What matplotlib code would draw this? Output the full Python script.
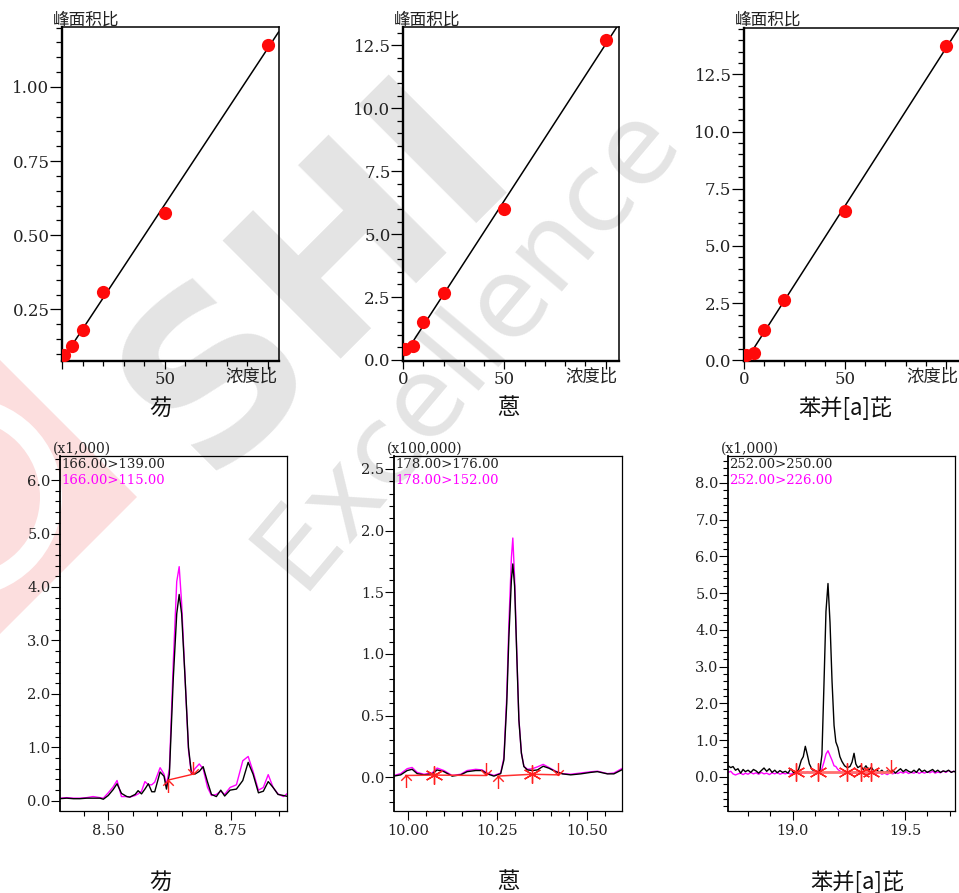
import numpy as np
import matplotlib
matplotlib.use("Agg")
import matplotlib.pyplot as plt
from matplotlib.path import Path
from matplotlib.patches import Polygon, Wedge
from matplotlib.transforms import IdentityTransform
from matplotlib.ticker import MultipleLocator, FixedLocator, FixedFormatter, FormatStrFormatter

# ---------------- data ----------------
conc = [1, 5, 10, 20, 50, 100]
fl_ratio = [0.095, 0.126, 0.179, 0.310, 0.575, 1.141]
an_ratio = [0.42, 0.56, 1.51, 2.67, 5.98, 12.70]
bap_ratio = [0.22, 0.32, 1.34, 2.62, 6.53, 13.76]
names = ["芴", "蒽", "苯并[a]芘"]

fl_t = [8.401, 8.415, 8.429, 8.442, 8.456, 8.469, 8.483, 8.490, 8.500, 8.510,
        8.518, 8.527, 8.538, 8.544, 8.555, 8.561, 8.568, 8.575, 8.582, 8.589,
        8.595, 8.606, 8.614, 8.619, 8.625, 8.633, 8.640, 8.645, 8.650, 8.657,
        8.664, 8.670, 8.677, 8.686, 8.694, 8.703, 8.711, 8.721, 8.730, 8.738,
        8.749, 8.762, 8.775, 8.786, 8.796, 8.807, 8.817, 8.827, 8.837, 8.847,
        8.858, 8.868]
fl_139 = [0.04, 0.05, 0.04, 0.04, 0.05, 0.05, 0.05, 0.03, 0.10, 0.21,
          0.32, 0.14, 0.08, 0.07, 0.12, 0.19, 0.13, 0.22, 0.32, 0.17,
          0.17, 0.54, 0.46, 0.22, 0.50, 2.30, 3.50, 3.86, 3.50, 2.30,
          1.00, 0.52, 0.50, 0.55, 0.64, 0.35, 0.12, 0.08, 0.20, 0.09,
          0.20, 0.22, 0.38, 0.72, 0.50, 0.15, 0.18, 0.36, 0.25, 0.12,
          0.10, 0.08]
fl_115 = [0.05, 0.06, 0.05, 0.05, 0.06, 0.08, 0.06, 0.05, 0.15, 0.26,
          0.38, 0.08, 0.08, 0.07, 0.10, 0.13, 0.18, 0.36, 0.30, 0.30,
          0.35, 0.62, 0.50, 0.30, 0.60, 2.60, 4.10, 4.38, 3.70, 2.30,
          0.95, 0.50, 0.60, 0.69, 0.60, 0.25, 0.10, 0.12, 0.18, 0.12,
          0.25, 0.30, 0.75, 0.83, 0.55, 0.20, 0.25, 0.49, 0.25, 0.13,
          0.08, 0.15]

an_t = [9.960, 9.979, 9.997, 10.011, 10.025, 10.044, 10.067, 10.081, 10.100, 10.123,
        10.147, 10.165, 10.189, 10.207, 10.221, 10.240, 10.259, 10.268, 10.276, 10.282,
        10.289, 10.293, 10.298, 10.304, 10.310, 10.317, 10.324, 10.334, 10.348, 10.362,
        10.378, 10.394, 10.413, 10.432, 10.455, 10.483, 10.511, 10.530, 10.558, 10.576,
        10.598]
an_176 = [0.010, 0.020, 0.055, 0.065, 0.030, 0.020, 0.028, 0.060, 0.046, 0.010,
          0.020, 0.046, 0.055, 0.055, 0.028, 0.010, 0.030, 0.140, 0.600, 1.140,
          1.600, 1.730, 1.550, 1.000, 0.465, 0.195, 0.087, 0.060, 0.055, 0.060,
          0.090, 0.074, 0.046, 0.028, 0.020, 0.028, 0.040, 0.046, 0.028, 0.028,
          0.060]
an_152 = [0.015, 0.030, 0.070, 0.080, 0.040, 0.025, 0.035, 0.075, 0.055, 0.015,
          0.025, 0.055, 0.065, 0.060, 0.035, 0.015, 0.035, 0.160, 0.660, 1.250,
          1.780, 1.940, 1.620, 1.020, 0.470, 0.200, 0.090, 0.065, 0.070, 0.085,
          0.105, 0.080, 0.050, 0.030, 0.025, 0.035, 0.045, 0.050, 0.030, 0.035,
          0.070]

bap_t = [18.712, 18.724, 18.734, 18.745, 18.756, 18.768, 18.779, 18.789, 18.801, 18.813,
         18.825, 18.837, 18.848, 18.860, 18.872, 18.884, 18.896, 18.908, 18.920, 18.931,
         18.943, 18.955, 18.967, 18.979, 18.991, 19.003, 19.015, 19.026, 19.038, 19.047,
         19.056, 19.065, 19.074, 19.086, 19.098, 19.109, 19.121, 19.130, 19.139, 19.148,
         19.157, 19.166, 19.175, 19.184, 19.192, 19.201, 19.210, 19.219, 19.231, 19.243,
         19.255, 19.264, 19.273, 19.281, 19.290, 19.302, 19.314, 19.326, 19.338, 19.350,
         19.362, 19.373, 19.385, 19.397, 19.409, 19.421, 19.433, 19.445, 19.457, 19.468,
         19.480, 19.492, 19.504, 19.516, 19.528, 19.540, 19.551, 19.563, 19.575, 19.587,
         19.599, 19.611, 19.623, 19.634, 19.646, 19.658, 19.670, 19.682, 19.694, 19.706,
         19.717, 19.729]
bap_250 = [0.30, 0.25, 0.28, 0.18, 0.22, 0.10, 0.20, 0.14, 0.18, 0.12,
           0.20, 0.16, 0.10, 0.17, 0.24, 0.15, 0.22, 0.12, 0.18, 0.11,
           0.17, 0.12, 0.15, 0.10, 0.22, 0.12, 0.12, 0.20, 0.45, 0.55,
           0.83, 0.60, 0.35, 0.20, 0.15, 0.12, 0.18, 0.60, 2.50, 4.50,
           5.26, 4.20, 2.60, 1.40, 0.95, 0.80, 0.55, 0.42, 0.30, 0.25,
           0.28, 0.40, 0.64, 0.35, 0.25, 0.30, 0.20, 0.30, 0.18, 0.26,
           0.15, 0.20, 0.12, 0.18, 0.10, 0.16, 0.12, 0.18, 0.10, 0.16,
           0.22, 0.14, 0.20, 0.15, 0.12, 0.18, 0.12, 0.22, 0.14, 0.18,
           0.12, 0.16, 0.20, 0.13, 0.18, 0.12, 0.16, 0.14, 0.18, 0.12,
           0.15, 0.12]
bap_226 = [0.12, 0.15, 0.08, 0.05, 0.08, 0.10, 0.06, 0.10, 0.07, 0.12,
           0.08, 0.11, 0.07, 0.12, 0.08, 0.10, 0.06, 0.11, 0.08, 0.12,
           0.07, 0.10, 0.08, 0.11, 0.07, 0.10, 0.08, 0.12, 0.09, 0.13,
           0.10, 0.14, 0.11, 0.13, 0.11, 0.15, 0.14, 0.22, 0.40, 0.62,
           0.71, 0.58, 0.45, 0.30, 0.28, 0.20, 0.16, 0.12, 0.14, 0.10,
           0.13, 0.09, 0.12, 0.10, 0.14, 0.09, 0.12, 0.08, 0.11, 0.09,
           0.13, 0.08, 0.12, 0.07, 0.10, 0.06, 0.11, 0.08, 0.12, 0.09,
           0.13, 0.10, 0.14, 0.09, 0.12, 0.10, 0.14, 0.09, 0.13, 0.10,
           0.14, 0.11, 0.15, 0.10, 0.13, 0.11, 0.16, 0.12, 0.17, 0.13,
           0.15, 0.14]

# integration baselines: (start time, start level, end time, end level)
fl_base = [(8.623, 0.39, 8.674, 0.50)]
an_base = [(9.993, 0.015, 10.072, 0.018), (10.072, 0.018, 10.217, 0.015),
           (10.251, 0.010, 10.348, 0.025), (10.348, 0.025, 10.420, 0.020)]
bap_base = [(19.016, 0.137, 19.439, 0.137)]
fl_marks = [(8.623, 0.39, "up"), (8.674, 0.50, "down")]
an_marks = [(9.993, 0.015, "up"), (10.072, 0.018, "star"), (10.217, 0.015, "down"),
            (10.251, 0.010, "up"), (10.348, 0.025, "star"), (10.420, 0.020, "down")]
bap_marks = [(19.016, 0.137, "star"), (19.112, 0.137, "star"), (19.243, 0.137, "star"),
             (19.302, 0.137, "star"), (19.350, 0.137, "star"), (19.439, 0.137, "down")]

# ---------------- figure ----------------
W, H = 959, 893
plt.rcParams["font.family"] = ["DejaVu Serif", "Noto Sans CJK SC"]
CJK = ["Noto Sans CJK SC", "DejaVu Sans"]
fig = plt.figure(figsize=(W / 100, H / 100), dpi=100)
fig.patch.set_facecolor("white")


def fxy(px, py):
    return px / W, 1 - py / H


def add_ax(x0, x1, y0, y1):
    ax = fig.add_axes([x0 / W, 1 - y1 / H, (x1 - x0) / W, (y1 - y0) / H])
    ax.set_facecolor("none")
    return ax


# ---- background watermark (logo + text) ----
ident = IdentityTransform()
pink = "#fcdede"
diamond = Polygon([(137, H - 497), (-3, H - 357), (-143, H - 497), (-3, H - 637)],
                  closed=True, transform=ident, facecolor=pink, edgecolor="none",
                  zorder=-8)
fig.patches.append(diamond)
ring = Wedge((-38, H - 497), 100, 0, 360, width=22, transform=ident,
             facecolor="white", edgecolor="none", zorder=-7)
fig.patches.append(ring)

wm = "#e4e4e4"
fig.text(*fxy(205, 478), "SHI", rotation=45, rotation_mode="anchor",
         ha="left", va="baseline", fontsize=165, fontweight="bold",
         color=wm, family=["DejaVu Sans"], zorder=-5)
fig.text(*fxy(300, 592), "Excellence", rotation=50, rotation_mode="anchor",
         ha="left", va="baseline", fontsize=80, color=wm,
         family=["DejaVu Sans"], zorder=-5)

TXT = "#222222"

# ---------- calibration curves ----------
top = [
    dict(box=(62, 278.5, 27, 361), y=fl_ratio, xlim=(0, 105.2), ylim=(0.076, 1.202),
         ymaj=0.25, ymin=0.05, yfmt="%.2f", xlab=["", "50", ""], name_x=160, cr=277),
    dict(box=(403, 619, 27, 361), y=an_ratio, xlim=(0, 106.6), ylim=(-0.04, 13.23),
         ymaj=2.5, ymin=0.5, yfmt="%.1f", xlab=["0", "50", ""], name_x=508, cr=617),
    dict(box=(744, 961, 28, 361), y=bap_ratio, xlim=(0, 107.4), ylim=(-0.03, 14.53),
         ymaj=2.5, ymin=0.5, yfmt="%.1f", xlab=["0", "50", ""], name_x=845, cr=958),
]

for i, p in enumerate(top):
    ax = add_ax(*p["box"])
    xs = np.array(conc, dtype=float)
    ys = np.array(p["y"], dtype=float)
    k, b = np.polyfit(xs, ys, 1)
    xl = np.array(p["xlim"])
    ax.plot(xl, k * xl + b, color="black", lw=1.1, zorder=2)
    ax.plot(xs, ys, "o", color="#ff0a0a", ms=9.5, mec="none", zorder=3)
    ax.set_xlim(*p["xlim"])
    ax.set_ylim(*p["ylim"])
    ax.yaxis.set_major_locator(MultipleLocator(p["ymaj"]))
    ax.yaxis.set_minor_locator(MultipleLocator(p["ymin"]))
    ax.yaxis.set_major_formatter(FormatStrFormatter(p["yfmt"]))
    ax.xaxis.set_major_locator(FixedLocator([0, 50, 100]))
    ax.xaxis.set_major_formatter(FixedFormatter(p["xlab"]))
    ax.xaxis.set_minor_locator(MultipleLocator(10))
    ax.tick_params(axis="y", which="major", length=8.5, width=0.9, pad=0.5,
                   labelsize=12, labelcolor=TXT)
    ax.tick_params(axis="y", which="minor", length=4.5, width=0.9)
    ax.tick_params(axis="x", which="major", length=6, width=0.9, pad=1.5,
                   labelsize=12, labelcolor=TXT)
    ax.tick_params(axis="x", which="minor", length=3.5, width=0.9)
    for s in ("left", "bottom"):
        ax.spines[s].set_linewidth(1.7)
    for s in ("top", "right"):
        ax.spines[s].set_linewidth(1.1)
    x0 = p["box"][0]
    fig.text(*fxy(x0 - 9.5, 20.5), "峰面积比", ha="left", va="center",
             fontsize=12, color=TXT, family=CJK)
    fig.text(*fxy(p["cr"], 377), "浓度比", ha="right", va="center",
             fontsize=12.5, color=TXT, family=CJK)
    fig.text(*fxy(p["name_x"], 408), names[i], ha="center", va="center",
             fontsize=16, color="#111111", family=CJK)

# ---------- chromatograms ----------
up_path = Path([(0, 0), (0, -1), (-0.42, -0.42), (0, 0), (0.42, -0.42)],
               [Path.MOVETO, Path.LINETO, Path.MOVETO, Path.LINETO, Path.LINETO])
down_path = Path([(0, 0), (0, 1), (-0.42, 0.42), (0, 0), (0.42, 0.42)],
                 [Path.MOVETO, Path.LINETO, Path.MOVETO, Path.LINETO, Path.LINETO])

bot = [
    dict(box=(60.3, 287.3, 456, 811), t=fl_t, k=fl_139, m=fl_115,
         xlim=(8.402, 8.866), ylim=(-0.19, 6.45), ymaj=1.0, ymin=0.2,
         xmaj=[8.50, 8.75], xmin=0.05, xfmt="%.2f", scale="(x1,000)",
         l1="166.00>139.00", l2="166.00>115.00", base=fl_base, marks=fl_marks,
         bcol="#ff2020", blw=1.0, name_x=160),
    dict(box=(394.3, 621.7, 456, 811), t=an_t, k=an_176, m=an_152,
         xlim=(9.961, 10.598), ylim=(-0.273, 2.605), ymaj=0.5, ymin=0.1,
         xmaj=[10.00, 10.25, 10.50], xmin=0.05, xfmt="%.2f", scale="(x100,000)",
         l1="178.00>176.00", l2="178.00>152.00", base=an_base, marks=an_marks,
         bcol="#ff3030", blw=1.1, name_x=508),
    dict(box=(728.3, 955.3, 456, 811), t=bap_t, k=bap_250, m=bap_226,
         xlim=(18.713, 19.724), ylim=(-0.93, 8.73), ymaj=1.0, ymin=0.2,
         xmaj=[19.0, 19.5], xmin=0.1, xfmt="%.1f", scale="(x1,000)",
         l1="252.00>250.00", l2="252.00>226.00", base=bap_base, marks=bap_marks,
         bcol="#ff7070", blw=2.0, name_x=857),
]

for i, p in enumerate(bot):
    ax = add_ax(*p["box"])
    ax.plot(p["t"], p["m"], color="#ff00ff", lw=1.0, zorder=2)
    ax.plot(p["t"], p["k"], color="black", lw=1.0, zorder=3)
    for (t0, y0, t1, y1) in p["base"]:
        ax.plot([t0, t1], [y0, y1], color=p["bcol"], lw=p["blw"], zorder=4)
    for (tm, ym, kind) in p["marks"]:
        if kind == "up":
            ax.plot([tm], [ym], marker=up_path, ms=18, mew=1.0, color="#ff2020",
                    mfc="none", zorder=5)
        elif kind == "down":
            ax.plot([tm], [ym], marker=down_path, ms=18, mew=1.0, color="#ff2020",
                    mfc="none", zorder=5)
        else:
            ax.plot([tm], [ym], marker=(6, 2, 0), ms=13, mew=1.0, color="#ff2020",
                    zorder=5)
    ax.set_xlim(*p["xlim"])
    ax.set_ylim(*p["ylim"])
    ax.yaxis.set_major_locator(MultipleLocator(p["ymaj"]))
    ax.yaxis.set_minor_locator(MultipleLocator(p["ymin"]))
    ax.yaxis.set_major_formatter(FormatStrFormatter("%.1f"))
    ax.xaxis.set_major_locator(FixedLocator(p["xmaj"]))
    ax.xaxis.set_minor_locator(MultipleLocator(p["xmin"]))
    ax.xaxis.set_major_formatter(FormatStrFormatter(p["xfmt"]))
    ax.tick_params(axis="y", which="major", length=6.5, width=0.8, pad=0.5,
                   labelsize=10.5, labelcolor=TXT)
    ax.tick_params(axis="y", which="minor", length=3.6, width=0.8)
    ax.tick_params(axis="x", which="major", length=6.5, width=0.8, pad=3,
                   labelsize=10.5, labelcolor=TXT)
    ax.tick_params(axis="x", which="minor", length=3.5, width=0.8)
    ax.spines["left"].set_linewidth(1.3)
    for s in ("top", "right", "bottom"):
        ax.spines[s].set_linewidth(0.9)
    ax.annotate(p["scale"], xy=(0, 1), xycoords="axes fraction",
                xytext=(-5, 0), textcoords="offset points", ha="left", va="bottom",
                fontsize=10, color=TXT)
    ax.annotate(p["l1"], xy=(0, 1), xycoords="axes fraction",
                xytext=(0.7, -1.5), textcoords="offset points", ha="left", va="top",
                fontsize=9.5, color="#222222")
    ax.annotate(p["l2"], xy=(0, 1), xycoords="axes fraction",
                xytext=(0.7, -13), textcoords="offset points", ha="left", va="top",
                fontsize=9.5, color="#ff00ff")
    fig.text(*fxy(p["name_x"], 882), names[i], ha="center", va="center",
             fontsize=16, color="#111111", family=CJK)

fig.savefig("out.png", dpi=100, facecolor="white")
